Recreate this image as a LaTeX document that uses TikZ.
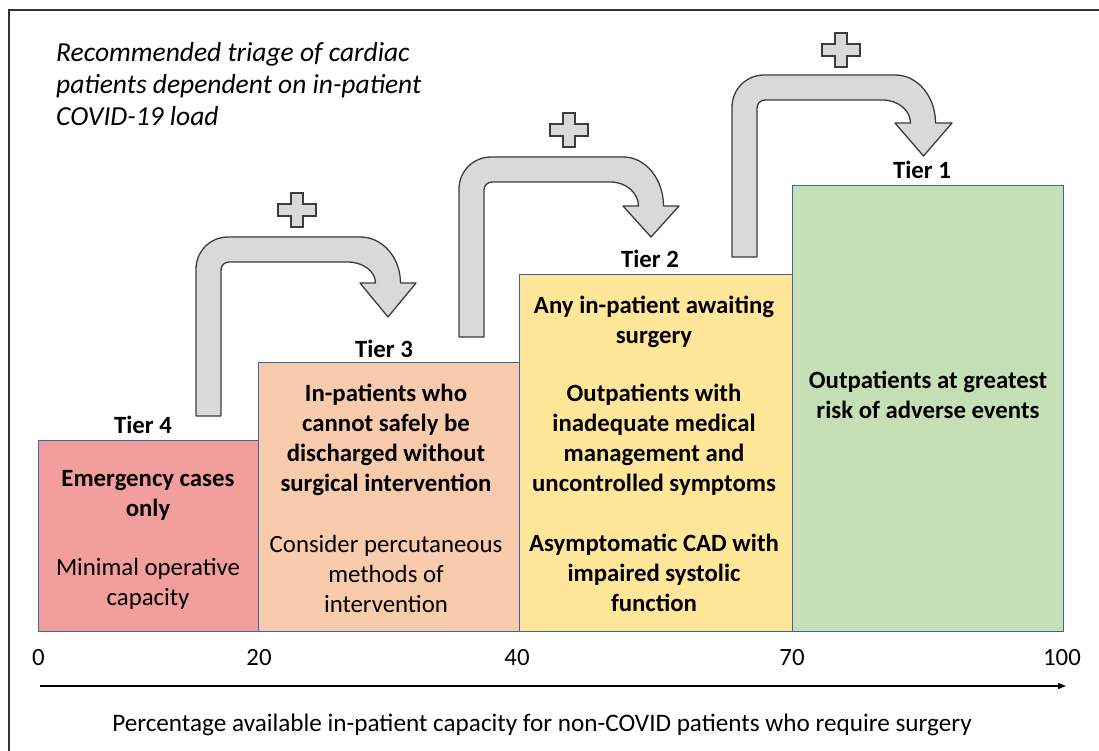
\documentclass[tikz,border=0pt]{standalone}
\usepackage{fontspec}
\setmainfont{Carlito}
\usetikzlibrary{arrows.meta}
\definecolor{tfour}{RGB}{242,158,156}
\definecolor{tthree}{RGB}{248,203,173}
\definecolor{ttwo}{RGB}{255,230,153}
\definecolor{tone}{RGB}{197,224,180}
\definecolor{tborder}{RGB}{60,100,170}
\definecolor{agray}{RGB}{217,217,217}
\definecolor{adark}{RGB}{60,60,60}
\tikzset{
 tierbox/.style={draw=tborder, line width=1pt, inner sep=0pt, outer sep=0pt, anchor=north west},
 lbl/.style={font=\fontsize{24.8}{30}\selectfont\bfseries, inner sep=0pt, align=center},
 txt/.style={font=\fontsize{24.8}{30}\selectfont, inner sep=0pt, align=center},
 bentarrow/.style={fill=agray, draw=adark, line width=1.3pt, line join=round},
 plusshape/.style={fill=agray, draw=adark, line width=1.3pt},
 framel/.style={draw=black!80, line width=1.5pt},
 axis/.style={line width=1.6pt, -{Triangle[length=8pt,width=6pt]}},
 plussign/.pic={\draw[plusshape] (-6,-17) -- (6,-17) -- (6,-6) -- (19,-6) -- (19,6) -- (6,6) -- (6,17) -- (-6,17) -- (-6,6) -- (-19,6) -- (-19,-6) -- (-6,-6) -- cycle;}
}
\begin{document}
\begin{tikzpicture}[x=1pt,y=-1pt]
\useasboundingbox[fill=white] (0,0) rectangle (1099,751);
\draw[framel] (9,751) -- (9,10) -- (1099,10);

\node[anchor=north west, align=left, inner sep=0pt, font=\fontsize{27.5}{31.8}\selectfont\itshape] (title) at (56,42.5)
 {Recommended triage of cardiac\\patients dependent on in-patient\\COVID-19 load};

% bent arrows
\draw[bentarrow] (196,416) -- (196,269) .. controls +(0,-17.7) and +(-17.7,0) .. (228,237) -- (360.5,237)
 .. controls +(22,0) and +(0,-25.4) .. (400.5,283) -- (416,283) -- (388,317) -- (360,283) -- (375.5,283)
 .. controls +(0,-11.6) and +(15.5,0) .. (347.5,262) -- (229,262) .. controls +(-4.4,0) and +(0,-4.4) .. (221,270) -- (221,416) -- cycle;
\draw[bentarrow] (459,337) -- (459,189) .. controls +(0,-17.7) and +(-17.7,0) .. (491,157) -- (623.5,157)
 .. controls +(22,0) and +(0,-27) .. (663.5,206) -- (679,206) -- (651,237) -- (623,206) -- (638.5,206)
 .. controls +(0,-13) and +(15.5,0) .. (610.5,182) -- (492,182) .. controls +(-4.4,0) and +(0,-4.4) .. (484,190) -- (484,337) -- cycle;
\draw[bentarrow] (732,257) -- (732,107) .. controls +(0,-17.7) and +(-17.7,0) .. (764,75) -- (895.5,75)
 .. controls +(22,0) and +(0,-26.5) .. (935.5,123) -- (952,123) -- (923.5,156) -- (895,123) -- (910.5,123)
 .. controls +(0,-12.7) and +(15.5,0) .. (882.5,100) -- (765,100) .. controls +(-4.4,0) and +(0,-4.4) .. (757,108) -- (757,257) -- cycle;

\pic at (297,210) {plussign};
\pic at (569,130) {plussign};
\pic at (841,50) {plussign};

% tier boxes
\node[tierbox, fill=tone, minimum width=271pt, minimum height=445pt] (t1) at (792,186) {};
\node[tierbox, fill=ttwo, minimum width=273pt, minimum height=357pt] (t2) at (519,274) {};
\node[tierbox, fill=tthree, minimum width=261pt, minimum height=269pt] (t3) at (258,362) {};
\node[tierbox, fill=tfour, minimum width=220pt, minimum height=191pt] (t4) at (38,440) {};

% tier labels
\node[lbl] (l4) at (143,425) {Tier 4};
\node[lbl] (l3) at (384,349) {Tier 3};
\node[lbl] (l2) at (650,259) {Tier 2};
\node[lbl] (l1) at (922,170) {Tier 1};

% tier contents
\node[lbl] (a4) at (148,495) {Emergency cases\\only};
\node[txt] (b4) at (148,584) {Minimal operative\\capacity};
\node[lbl] (a3) at (386,440) {In-patients who\\cannot safely be\\discharged without\\surgical intervention};
\node[txt] (b3) at (386,574) {Consider percutaneous\\methods of\\intervention};
\node[lbl] (a2) at (654,322) {Any in-patient awaiting\\surgery};
\node[lbl] (b2) at (654,440) {Outpatients with\\inadequate medical\\management and\\uncontrolled symptoms};
\node[lbl] (c2) at (654,573) {Asymptomatic CAD with\\impaired systolic\\function};
\node[lbl] (a1) at (928,395) {Outpatients at greatest\\risk of adverse events};

% axis
\node[txt] (n0) at (38.5,658) {0};
\node[txt] (n20) at (259,658) {20};
\node[txt] (n40) at (517,658) {40};
\node[txt] (n70) at (792,658) {70};
\node[txt] (n100) at (1062,658) {100};
\coordinate (axs) at (40,686);
\coordinate (axe) at (1066,686);
\draw[axis] (axs) -- (axe);
\node[txt, font=\fontsize{25.2}{30}\selectfont] (cap) at (542,725) {Percentage available in-patient capacity for non-COVID patients who require surgery};
\end{tikzpicture}
\end{document}
